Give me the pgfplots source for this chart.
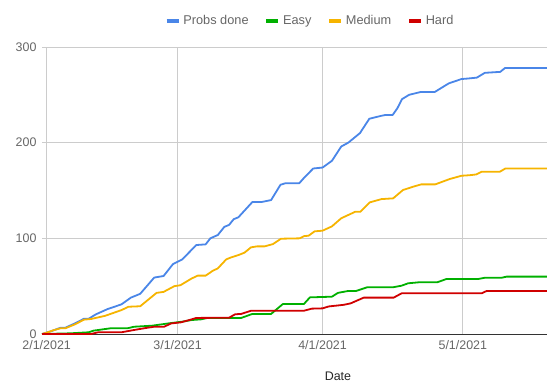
\documentclass[border=0pt]{standalone}
\usepackage{pgfplots}
\pgfplotsset{compat=1.18}
\usepackage{fontspec}
\setmainfont{Liberation Sans}
\definecolor{cBlue}{HTML}{4A86E8}
\definecolor{cGreen}{HTML}{00B000}
\definecolor{cYellow}{HTML}{F6B400}
\definecolor{cRed}{HTML}{D00000}
\definecolor{cGrid}{HTML}{CCCCCC}
\definecolor{cTick}{HTML}{666666}
\definecolor{cBase}{HTML}{333333}
\begin{document}
\begin{tikzpicture}
\path[use as bounding box] (-42bp,-58bp) rectangle (505bp,334bp);
\begin{axis}[
  at={(0,0)}, anchor=south west,
  scale only axis, width=505bp, height=287bp,
  xmin=-1, xmax=107, ymin=0, ymax=300,
  axis line style={draw=none},
  xtick={0,28,59,89},
  xticklabels={2/1/2021,3/1/2021,4/1/2021,5/1/2021},
  ytick={0,100,200,300},
  yticklabels={0,100,200,300},
  major tick length=0pt,
  xmajorgrids, ymajorgrids,
  major grid style={draw=cGrid, line width=0.8bp},
  tick label style={font=\fontsize{12.5}{14}\selectfont, text=cTick},
  /pgf/number format/assume math mode=true,
  xticklabel style={yshift=-3bp},
  yticklabel style={xshift=-2bp},
  xlabel={Date},
  xlabel style={font=\fontsize{12.5}{14}\selectfont, text=black!85, at={(rel axis cs:0.586,-0.146)}, anchor=center},
  legend columns=4,
  legend style={at={(rel axis cs:0.531,1.0906)}, anchor=center, draw=none, fill=none,
    font=\fontsize{12.8}{14}\selectfont, text=cTick,
    /tikz/every even column/.append style={column sep=13bp},
    inner sep=0pt, nodes={inner sep=2.5pt}},
  legend image code/.code={\draw[#1, line width=4.5bp, line cap=butt] (0bp,0bp) -- (12bp,0bp);},
  every axis plot/.append style={line width=1.8bp, line join=round, mark=none},
  clip=false,
]
\draw[cBase, line width=1bp] (axis cs:-1,0) -- (axis cs:107,0);
\addplot[cBlue] coordinates {
(-1,0) (1,3) (3,6.6) (4,6.6) (6,11) (8,16) (9,16) (10.5,20.5) (13,26) (16,31)
(18,38) (20,42) (23,59) (25,60.6) (27,73) (28,75.5) (29,78) (32,93) (34,93.7)
(35,100) (36.6,103.5) (38,112) (39,114) (40,120) (41,122) (44,138) (46,138)
(48,140) (50,156) (51,157.5) (54,157.5) (55,163) (57,173) (59,174) (61,181)
(63,196) (64.5,200) (67,210) (69,225) (71.5,228) (72.5,229) (74,229) (75,236)
(76,245.5) (77.5,250) (80,253) (83,253) (86,262) (88.7,266.5) (90,267) (92,268)
(93.7,273) (97,274) (98,278) (107,278)
};
\addlegendentry{Probs done}
\addplot[cGreen] coordinates {
(-1,0) (5,0.7) (9,1.8) (10,3.5) (13.7,6) (17.3,6) (18.7,7.6) (22.6,8.7)
(25.9,11) (29,12.9) (31,14.6) (33,15.3) (34.4,16.8) (41.6,16.8) (44,21) (48,21)
(50.5,31.3) (55,31.3) (56.3,38.3) (61,39) (62.3,43) (64.5,45) (66.2,45)
(68.5,48.8) (74,48.8) (75.9,50.5) (77.3,53) (79.5,54) (83.5,54) (85.5,57.5)
(92.3,57.5) (93.7,58.8) (97.3,58.8) (98.4,60) (107,60)
};
\addlegendentry{Easy}
\addplot[cYellow] coordinates {
(-1,0) (0,1.4) (1.5,4) (3,6) (4,6) (6,10) (8,15) (9.5,15.7) (12.5,19) (16,25)
(17.5,28.5) (20,29) (23.5,43) (25,44) (27.3,50) (28.6,51) (31,58) (32.3,61)
(34,61) (35.5,66) (36.6,68.6) (38.4,78) (39.4,80) (41,82.5) (42.3,85)
(43.7,90.6) (45,91.6) (46.6,91.6) (48.4,94) (50.1,99.6) (54.1,100) (55.1,102.4)
(56,102.7) (57.3,107.3) (59,108) (61,112.5) (63,121) (66,127.8) (67.1,127.8)
(69.1,137.6) (71.6,141) (74.1,141.8) (76.2,150.5) (78.4,154) (80.1,156.4)
(83.1,156.4) (86.2,162) (88.7,165.4) (90.5,166) (91.9,166.8) (93,169.6)
(96.9,169.6) (98.1,173) (107,173)
};
\addlegendentry{Medium}
\addplot[cRed] coordinates {
(-1,0) (9.5,0) (11,1.8) (16,1.8) (18.7,4.2) (21.6,6.6) (23,7.6) (25.1,7.6)
(26.6,11) (28.7,12.2) (30.5,14.6) (32,16.8) (39,17) (40.3,20.6) (41.6,21)
(43.7,24.3) (55,24.3) (56.7,26.5) (59,26.8) (60.3,28.8) (62.2,29.8) (63.5,30.5)
(65,32) (67.8,38) (74.2,38) (75.9,42.5) (93,42.5) (94.1,45) (107,45)
};
\addlegendentry{Hard}
\end{axis}
\end{tikzpicture}
\end{document}
